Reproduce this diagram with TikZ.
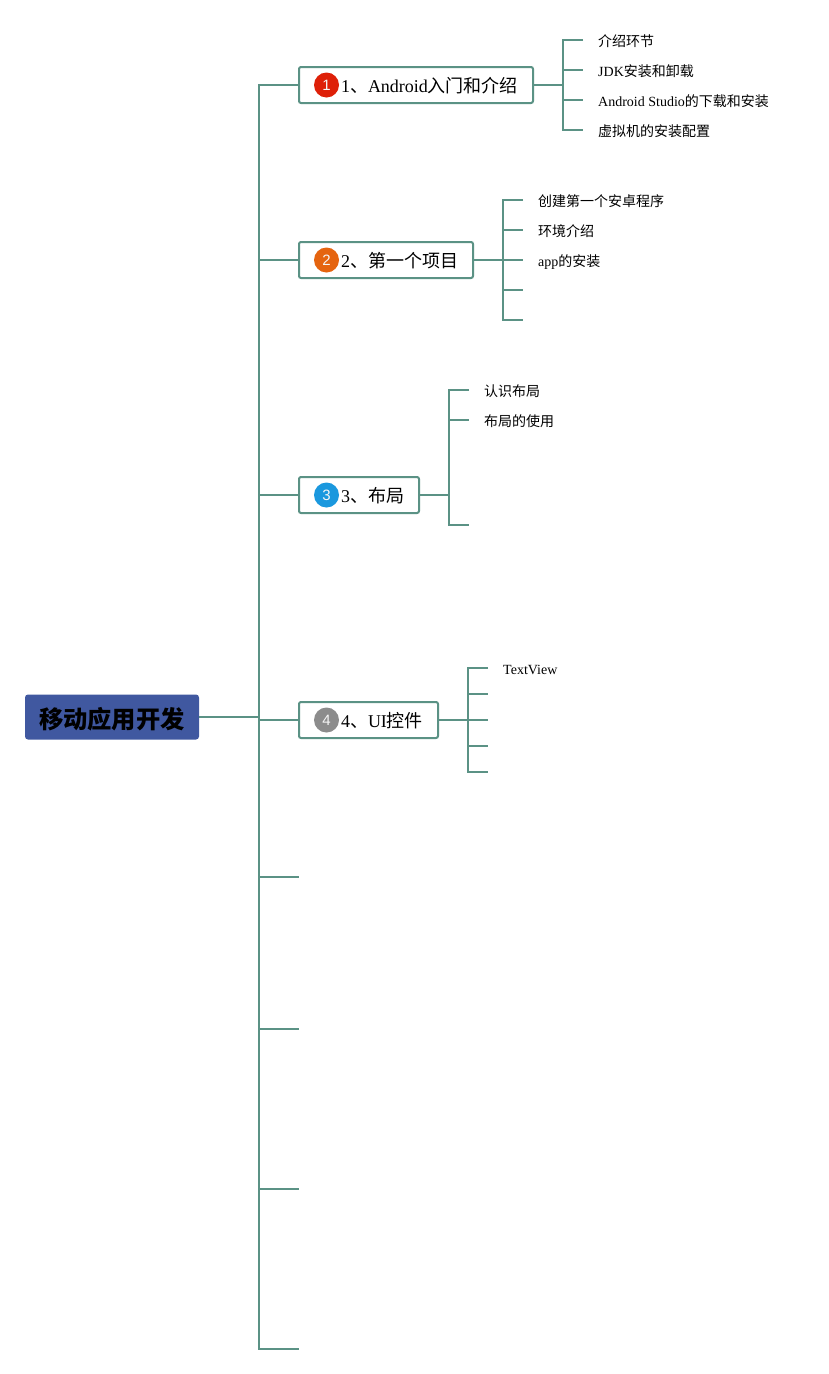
\documentclass[tikz,border=0pt]{standalone}
\usepackage{fontspec}
\setmainfont{Liberation Serif}
\newfontfamily\cjk{Noto Sans CJK SC}
\newfontfamily\badgefont{Liberation Sans}
\newcommand{\zh}[1]{{\cjk #1}}
\newcommand{\topictext}[1]{\hspace*{42pt}\raisebox{-3pt}[13pt][4pt]{#1}}
\definecolor{edgegreen}{HTML}{5B9285}
\definecolor{rootblue}{HTML}{4058A0}
\definecolor{badgered}{HTML}{DE2008}
\definecolor{badgeorange}{HTML}{E5640F}
\definecolor{badgeblue}{HTML}{1A98DE}
\definecolor{badgegray}{HTML}{8C8C8C}
\tikzset{
  x=1pt,y=-1pt,
  link/.style={draw=edgegreen,line width=2pt},
  trunk/.style={draw=edgegreen,line width=2pt,line cap=rect},
  rootbox/.style={fill=rootblue,rounded corners=3pt,minimum width=174pt,minimum height=45pt,inner sep=0pt,text height=24pt,text depth=1pt,font=\fontsize{24.3}{28}\selectfont\bfseries},
  topicbox/.style={draw=edgegreen,line width=2pt,fill=white,rounded corners=2pt,minimum height=36pt,inner sep=0pt,align=left,font=\fontsize{18}{22}\selectfont},
  leaf/.style={anchor=west,inner sep=0pt,text height=12.3pt,text depth=1.7pt,font=\fontsize{14}{17}\selectfont},
  badge/.style={circle,minimum size=25pt,inner sep=0pt,text=white!92!gray,font=\badgefont\fontsize{15}{17}\selectfont},
}
\begin{document}
\begin{tikzpicture}
\useasboundingbox[fill=white] (0,0) rectangle (829,1374);

% main nodes
\node[rootbox] (root) at (112,717) {\zh{\bfseries 移动应用开发}};
\node[topicbox,text width=234pt] (t1) at (416,85) {\topictext{1\zh{、}Android\zh{入门和介绍}}};
\node[topicbox,text width=174pt] (t2) at (386,260) {\topictext{2\zh{、第一个项目}}};
\node[topicbox,text width=120pt] (t3) at (359,495) {\topictext{3\zh{、布局}}};
\node[topicbox,text width=139pt] (t4) at (368.5,720) {\topictext{4\zh{、}UI\zh{控件}}};

\node[badge,fill=badgered] (b1) at (326.5,85) {1};
\node[badge,fill=badgeorange] (b2) at (326.5,260) {2};
\node[badge,fill=badgeblue] (b3) at (326.5,495) {3};
\node[badge,fill=badgegray] (b4) at (326.5,720) {4};

% leaf labels
\node[leaf] (l11) at (598,41) {\zh{介绍环节}};
\node[leaf] (l12) at (598,71) {JDK\zh{安装和卸载}};
\node[leaf] (l13) at (598,101) {Android Studio\zh{的下载和安装}};
\node[leaf] (l14) at (598,131) {\zh{虚拟机的安装配置}};
\node[leaf] (l21) at (538,201) {\zh{创建第一个安卓程序}};
\node[leaf] (l22) at (538,231) {\zh{环境介绍}};
\node[leaf] (l23) at (538,261) {app\zh{的安装}};
\node[leaf] (l31) at (484,391) {\zh{认识布局}};
\node[leaf] (l32) at (484,421) {\zh{布局的使用}};
\node[leaf] (l41) at (503,669) {TextView};

% trunk
\coordinate (tr0) at (259,85);
\coordinate (trR) at (259,717);
\coordinate (trE) at (259,1349);
\coordinate (tr1) at (259,85);
\coordinate (tr2) at (259,260);
\coordinate (tr3) at (259,495);
\coordinate (tr4) at (259,720);
\coordinate (tr5) at (259,877);
\coordinate (e5) at (299,877);
\coordinate (tr6) at (259,1029);
\coordinate (e6) at (299,1029);
\coordinate (tr7) at (259,1189);
\coordinate (e7) at (299,1189);
\coordinate (e8) at (299,1349);

\draw[trunk] (tr0) -- (trE);
\draw[link] (root.east) -- (trR);
\draw[link] (tr1) -- (t1.west);
\draw[link] (tr2) -- (t2.west);
\draw[link] (tr3) -- (t3.west);
\draw[link] (tr4) -- (t4.west);
\draw[link] (tr5) -- (e5);
\draw[link] (tr6) -- (e6);
\draw[link] (tr7) -- (e7);
\draw[link] (trE) -- (e8);

% branch 1
\coordinate (s1) at (563,85);
\draw[link] (t1.east) -- (s1);
\draw[link] (583,40) -- (563,40) -- (563,130) -- (583,130);
\draw[link] (563,70) -- (583,70);
\draw[link] (563,100) -- (583,100);

% branch 2
\coordinate (s2) at (503,260);
\draw[link] (t2.east) -- (s2);
\draw[link] (523,200) -- (503,200) -- (503,320) -- (523,320);
\draw[link] (503,230) -- (523,230);
\draw[link] (503,260) -- (523,260);
\draw[link] (503,290) -- (523,290);

% branch 3
\coordinate (s3) at (449,495);
\draw[link] (t3.east) -- (s3);
\draw[link] (469,390) -- (449,390) -- (449,525) -- (469,525);
\draw[link] (449,420) -- (469,420);

% branch 4
\coordinate (s4) at (468,720);
\draw[link] (t4.east) -- (s4);
\draw[link] (488,668) -- (468,668) -- (468,772) -- (488,772);
\draw[link] (468,694) -- (488,694);
\draw[link] (468,720) -- (488,720);
\draw[link] (468,746) -- (488,746);
\end{tikzpicture}
\end{document}
